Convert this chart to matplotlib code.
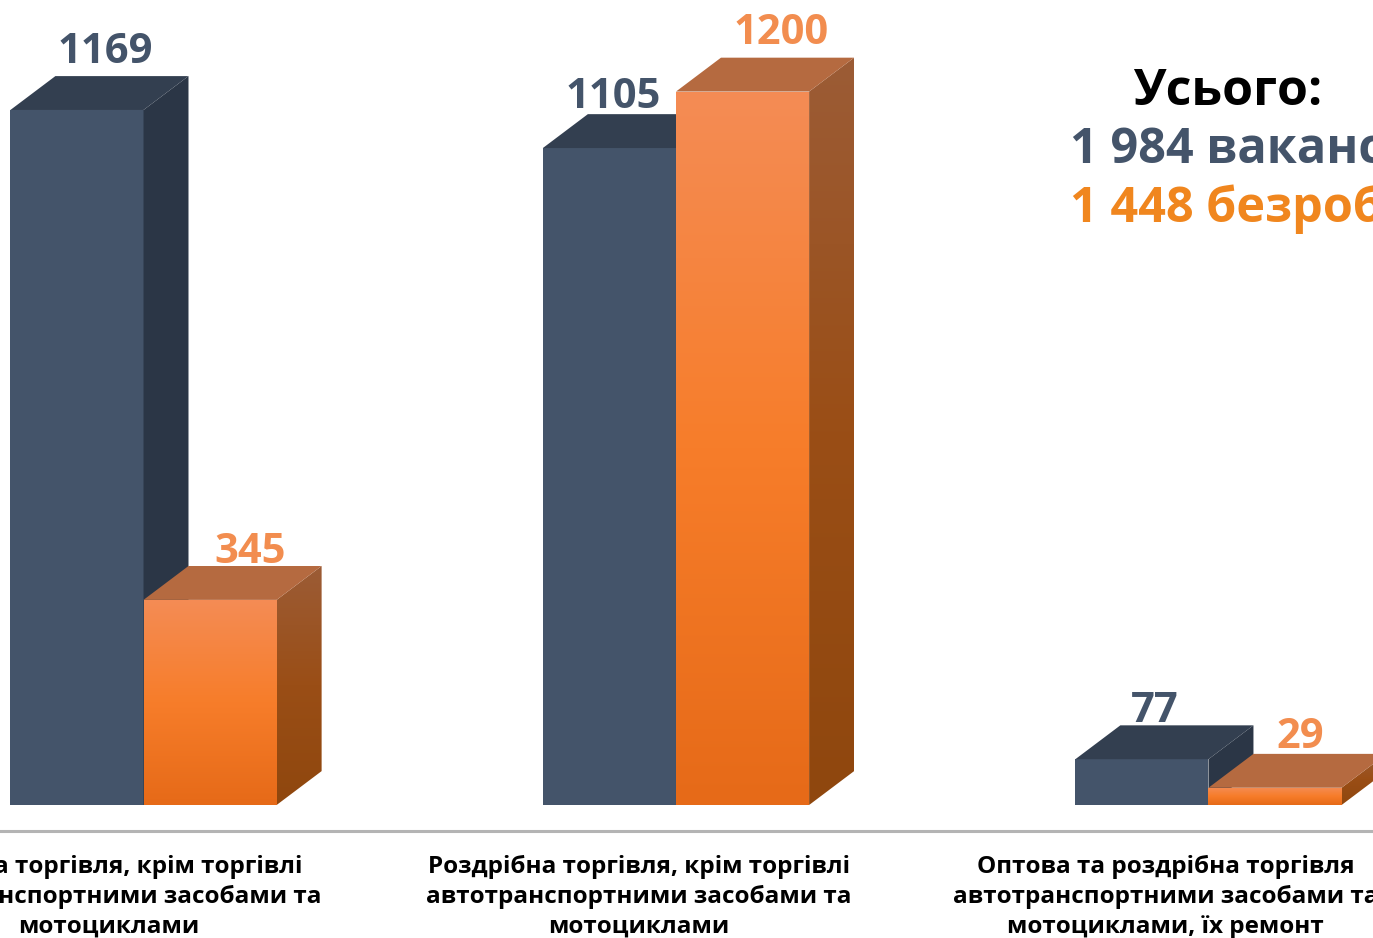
import matplotlib
matplotlib.use('Agg')
import matplotlib.pyplot as plt
from matplotlib.colors import LinearSegmentedColormap
from matplotlib.patches import Polygon
import numpy as np

categories = [
    'Оптова торгівля, крім торгівлі\nавтотранспортними засобами та\nмотоциклами',
    'Роздрібна торгівля, крім торгівлі\nавтотранспортними засобами та\nмотоциклами',
    'Оптова та роздрібна торгівля\nавтотранспортними засобами та\nмотоциклами, їх ремонт',
]
vacancies = [1169, 1105, 77]
unemployed = [345, 1200, 29]

title_text = 'Усього:'
total_vacancies = '1 984 вакансії'
total_unemployed = '1 448 безробітних'

# label nudges, the original slide placed these by hand
label_shift = [-0.066, -0.07, -0.081]
vac_dx = [0.178, 0.132, 0.15]
vac_dy = [22, 10, 5]
unemp_dx = [0.2, 0.197, 0.173]
unemp_dy = [5, 23, 10]

NAVY = '#44546a'
ORANGE_LABEL = '#f28d4f'
bar_w = 0.25
dx = 0.0845
dy = 57

plt.rcParams['font.family'] = ['Open Sans', 'DejaVu Sans']
fig = plt.figure(figsize=(13.73, 9.38), dpi=100)
ax = fig.add_axes([0, 0, 1, 1])

front_cmap = LinearSegmentedColormap.from_list('front', ['#f48c55', '#f77d2a', '#e66a18'])
side_cmap = LinearSegmentedColormap.from_list('side', ['#9c5c36', '#9a4e16', '#8f470e'])


def gradient_face(pts, cmap, zorder):
    # vertical gradient clipped to the polygon
    pts = np.array(pts)
    grad = np.linspace(0, 1, 256).reshape(-1, 1)
    ext = [pts[:, 0].min(), pts[:, 0].max(), pts[:, 1].min(), pts[:, 1].max()]
    im = ax.imshow(grad, cmap=cmap, extent=ext, aspect='auto', origin='upper', zorder=zorder)
    im.set_clip_path(Polygon(pts, closed=True, transform=ax.transData))


def box(x, v, z, front=None, side=None, top=None):
    x0, x1 = x, x + bar_w
    front_pts = [(x0, 0), (x1, 0), (x1, v), (x0, v)]
    side_pts = [(x1, 0), (x1 + dx, dy), (x1 + dx, v + dy), (x1, v)]
    top_pts = [(x0, v), (x1, v), (x1 + dx, v + dy), (x0 + dx, v + dy)]
    if front is None:
        gradient_face(front_pts, front_cmap, z)
        gradient_face(side_pts, side_cmap, z)
    else:
        ax.add_patch(Polygon(front_pts, color=front, lw=0, zorder=z))
        ax.add_patch(Polygon(side_pts, color=side, lw=0, zorder=z))
    ax.add_patch(Polygon(top_pts, color=top, lw=0, zorder=z))


for i in range(len(categories)):
    box(i - bar_w, vacancies[i], 2 + i * 0.1, front=NAVY, side='#2b3646', top='#333f50')
    box(i, unemployed[i], 3 + i * 0.1, top='#b56a40')
    ax.text(i - bar_w + vac_dx[i], vacancies[i] + dy + vac_dy[i], str(vacancies[i]), color=NAVY,
            fontsize=30, fontweight='bold', ha='center', va='baseline', zorder=5)
    ax.text(i + unemp_dx[i], unemployed[i] + dy + unemp_dy[i], str(unemployed[i]), color=ORANGE_LABEL,
            fontsize=30, fontweight='bold', ha='center', va='baseline', zorder=5)
    ax.text(i + label_shift[i], -215, categories[i], color='black', fontsize=17.5,
            fontweight='bold', ha='center', va='baseline', linespacing=1.315, zorder=5)

ax.axhline(-44, color='#b4b4b4', lw=2.2, zorder=1)

ax.text(0.8945, 1 - 105 / 938, title_text, transform=ax.transAxes, color='black', fontsize=36,
        fontweight='bold', ha='center', va='baseline')
ax.text(0.779, 1 - 163 / 938, total_vacancies, transform=ax.transAxes, color=NAVY, fontsize=35,
        fontweight='bold', ha='left', va='baseline')
ax.text(0.779, 1 - 222 / 938, total_unemployed, transform=ax.transAxes, color='#f0861e', fontsize=35,
        fontweight='bold', ha='left', va='baseline')

ax.set_xlim(-0.2695, 2.309)
ax.set_ylim(-223.7, 1354)
ax.axis('off')

fig.savefig('out.png', dpi=100)
